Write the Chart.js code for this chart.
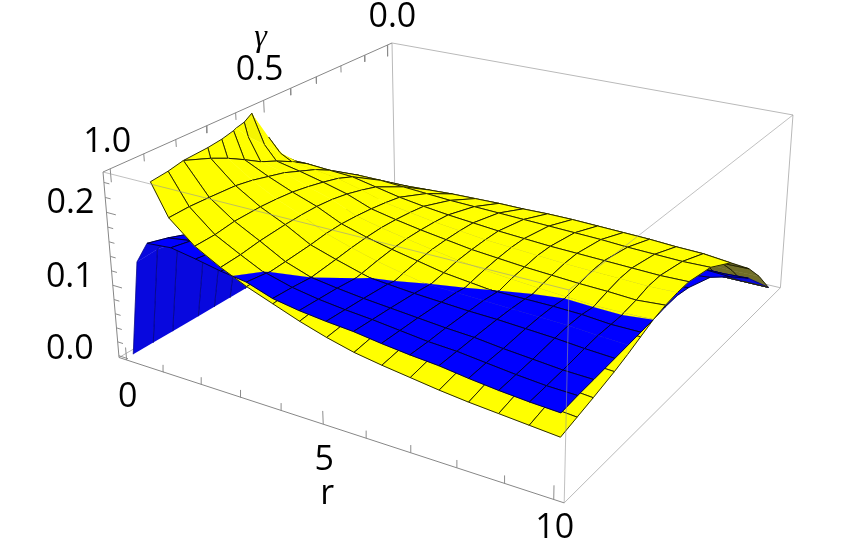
<!DOCTYPE html>
<html><head><meta charset="utf-8">
<style>html,body{margin:0;padding:0;background:#fff}canvas{display:block}</style>
<script src="https://cdn.jsdelivr.net/npm/chart.js@4/dist/chart.umd.js"></script>
</head><body><canvas id="c" width="852" height="542"></canvas>
<script>
// ---------- data ----------
const rValues=[0,.3125,.625,1.25,1.875,2.5,3.125,3.75,4.375,5,5.625,6.25,6.875,7.5,8.125,8.75,9.375,10];
const rMeshed=[0,0,1,1,1,1,1,1,1,1,1,1,1,1,1,1,1,1];
const gammaValues=[0,.065,.13,.24,.35,.46,.515,.57,.625,.68,.735,.79,.875,.9375,1];
const gammaMeshed=[1,0,1,1,1,1,0,1,0,1,0,1,1,1,1];
const yellowZ=[
[0,.015,.03,.07,.105,.165,.205,.25,.30,.355,.405,.455,.54,.60,.66],
[0,.02,.04,.08,.115,.162,.185,.208,.23,.258,.283,.31,.35,.38,.41],
[0,.024,.047,.088,.125,.162,.176,.188,.198,.212,.225,.236,.25,.261,.272],
[0,.029,.055,.093,.13,.16,.172,.181,.19,.196,.202,.206,.208,.209,.208],
[0,.03,.058,.098,.13,.158,.167,.173,.178,.182,.184,.185,.184,.18,.179],
[0,.031,.06,.1,.128,.151,.158,.164,.168,.17,.17,.169,.166,.162,.16],
[0,.032,.06,.102,.126,.144,.148,.151,.153,.154,.153,.15,.147,.145,.144],
[0,.032,.06,.103,.124,.139,.142,.144,.145,.144,.142,.139,.135,.133,.131],
[0,.033,.061,.104,.123,.135,.137,.138,.138,.136,.133,.129,.124,.121,.118],
[0,.033,.062,.104,.122,.132,.133,.133,.132,.129,.125,.12,.114,.11,.107],
[0,.034,.062,.105,.121,.129,.129,.128,.126,.122,.118,.113,.106,.102,.098],
[0,.034,.063,.105,.12,.127,.127,.125,.122,.118,.113,.108,.101,.096,.092],
[0,.034,.062,.104,.119,.125,.125,.122,.119,.114,.109,.103,.097,.092,.087],
[0,.034,.062,.103,.118,.124,.123,.12,.116,.111,.105,.099,.092,.087,.082],
[0,.033,.061,.102,.116,.123,.122,.118,.114,.108,.102,.096,.089,.084,.078],
[0,.033,.06,.1,.115,.122,.121,.117,.112,.106,.1,.094,.086,.081,.075],
[0,.032,.059,.099,.114,.121,.12,.115,.112,.104,.098,.092,.084,.078,.072],
[0,.033,.06,.095,.115,.122,.121,.118,.113,.105,.097,.09,.081,.075,.069]];
const blueZ=[
[0,0,0,0,0,0,0,0,0,0,0,0,0,0,0],
[0,.009,.018,.036,.05,.066,.073,.08,.088,.096,.105,.115,.133,.138,.135],
[0,.01,.02,.04,.056,.074,.081,.089,.098,.108,.118,.129,.149,.158,.165],
[0,.018,.036,.064,.08,.095,.102,.108,.115,.122,.13,.138,.155,.163,.168],
[0,.02,.038,.066,.083,.099,.105,.112,.119,.126,.134,.142,.152,.158,.162],
[0,.02,.039,.068,.085,.1,.106,.113,.12,.127,.134,.14,.148,.152,.155],
[0,.02,.039,.068,.085,.1,.105,.111,.117,.123,.129,.134,.14,.1465,.15],
[0,.021,.04,.068,.085,.099,.104,.108,.112,.117,.122,.127,.135,.137,.138],
[0,.021,.04,.069,.085,.099,.103,.107,.111,.115,.12,.127,.13,.131,.132],
[0,.021,.041,.07,.086,.099,.104,.108,.112,.116,.12,.124,.126,.127,.128],
[0,.021,.041,.071,.087,.099,.104,.107,.111,.115,.119,.121,.123,.124,.125],
[0,.022,.042,.071,.088,.099,.104,.108,.112,.115,.118,.119,.12,.12,.12],
[0,.022,.042,.072,.089,.1,.105,.109,.112,.115,.117,.117,.117,.116,.116],
[0,.022,.043,.073,.09,.101,.106,.11,.113,.115,.116,.116,.115,.114,.113],
[0,.022,.043,.074,.092,.103,.108,.111,.113,.115,.115,.114,.111,.11,.108],
[0,.022,.044,.076,.094,.105,.11,.112,.111,.114,.114,.112,.108,.106,.104],
[0,.022,.044,.077,.097,.108,.113,.113,.111,.111,.111,.109,.105,.103,.101],
[0,.023,.046,.075,.101,.114,.117,.116,.113,.111,.109,.107,.104,.102,.099]];
const rTicks=[0,1,2,3,4,5,6,7,8,9,10];
const gammaTicks=[0,.1,.2,.3,.4,.5,.6,.7,.8,.9,1];
const zTicks=[0,.02,.04,.06,.08,.1,.12,.14,.16,.18,.2,.22,.24];
const rLabels=[['0',0],['5',5],['10',10]];
const gammaLabels=[['0.0',0],['0.5',.5],['1.0',1]];
const zLabels=[['0.0',0],['0.1',.1],['0.2',.2]];

// ---------- view ----------
const Z_CLIP=.25;
const CAM=[[375.2,387.5,-21.4,124.4],[71.7,-118.2,-201.6,373.6],[-.1595,.2512,-.045,1.045]];
const uOf=r=>.02+.096*r, vOf=g=>.02+.96*(1-g), cOf=z=>.01+3.9*z;
function cube(u,v,c){const w=CAM[2][0]*u+CAM[2][1]*v+CAM[2][2]*c+CAM[2][3];
  return {x:(CAM[0][0]*u+CAM[0][1]*v+CAM[0][2]*c+CAM[0][3])/w,y:(CAM[1][0]*u+CAM[1][1]*v+CAM[1][2]*c+CAM[1][3])/w};}
const proj=(r,g,z)=>cube(uOf(r),vOf(g),cOf(z));
const GAP={x:null,y:null};

function clip(poly,f,cut){const out=[];
  for(let i=0;i<poly.length;i++){const a=poly[i],b=poly[(i+1)%poly.length],fa=f(a),fb=f(b);
    const mix=()=>{const t=fa/(fa-fb),o={};for(const k of ['r','g','Y','B'])o[k]=a[k]+(b[k]-a[k])*t;return o;};
    if(fa>=0){out.push(a);if(fb<0){out.push({...mix(),m:cut});}}
    else if(fb>=0){out.push({...mix(),m:a.m});}
  }
  return out;}
function area(p){let s=0;for(let i=0;i<p.length;i++){const a=p[i],b=p[(i+1)%p.length];s+=a.x*b.y-b.x*a.y;}return s;}

const painted=[];
const line=(data,color,w)=>({data,borderColor:color,borderWidth:w,showLine:true,pointRadius:0,fill:false,clip:false,tension:0});
function addSurface(poly,key,under,bright){
  const cut=clip(poly,v=>Z_CLIP-v[key],key==='Y');
  if(cut.length<3)return;
  const pts=cut.map(v=>proj(v.r,v.g,v[key]));
  let col;
  if(key==='Y'){ if(under) col='rgb(112,110,40)'; else {const b=Math.round(255*bright);col=`rgb(${b},${b},${Math.round(20*(1-bright))})`;} }
  else col=under?'rgb(8,8,222)':'rgb(0,0,255)';
  painted.push({data:pts,backgroundColor:col,borderColor:col,borderWidth:.5,showLine:true,fill:'shape',pointRadius:0,clip:false,tension:0});
  const mesh=[];
  cut.forEach((v,i)=>{if(v.m){mesh.push(pts[i],pts[(i+1)%pts.length],GAP);}});
  const mc=key==='Y'?'rgba(25,25,0,.92)':(under?'rgba(0,0,70,.45)':'rgba(0,0,50,.95)');
  if(mesh.length)painted.push(line(mesh,mc,1));
}
function slopeLight(a,b,c,d,key){ // a(r0,g0) b(r1,g0) c(r1,g1) d(r0,g1)
  if(a.g>=.6)return 1;
  const du=uOf(b.r)-uOf(a.r), dv=vOf(d.g)-vOf(a.g);
  const su=(cOf(b[key])+cOf(c[key])-cOf(a[key])-cOf(d[key]))/(2*du);
  const sv=(cOf(d[key])+cOf(c[key])-cOf(a[key])-cOf(b[key]))/(2*dv);
  return Math.min(1,.45+4/Math.sqrt(1+su*su+sv*sv));
}
// box back edges
const C=(u,v,c)=>cube(u,v,c);
painted.push(line([C(0,1,1),C(1,1,1),GAP,C(0,1,1),C(0,1,0),GAP,C(0,1,0),C(0,0,0),GAP,C(0,1,0),C(1,1,0),GAP,C(1,1,0),C(1,1,1)],'rgb(185,185,185)',1));
// surfaces: far cells first
for(let i=0;i<rValues.length-1;i++)for(let j=0;j<gammaValues.length-1;j++){
  const vx=(a,b)=>({r:rValues[a],g:gammaValues[b],Y:yellowZ[a][b],B:blueZ[a][b],m:true});
  const a=vx(i,j),b=vx(i+1,j),c=vx(i+1,j+1),d=vx(i,j+1);
  // edges: a->b (constant gamma), b->c (constant r), c->d (constant gamma), d->a (constant r)
  a.m=!!gammaMeshed[j]||i<2;b.m=!!rMeshed[i+1];c.m=!!gammaMeshed[j+1]||i<2;d.m=!!rMeshed[i];
  const quad=[a,b,c,d];
  const flat=area([proj(a.r,a.g,0),proj(b.r,b.g,0),proj(c.r,c.g,0),proj(d.r,d.g,0)]);
  const bright=slopeLight(a,b,c,d,'Y');
  const yHigh=clip(quad,v=>v.Y-v.B,false), bHigh=clip(quad,v=>v.B-v.Y,false);
  for(const [part,upper,lower] of [[yHigh,'Y','B'],[bHigh,'B','Y']]){
    if(part.length<3)continue;
    const under=k=>area(quad.map(v=>proj(v.r,v.g,v[k])))*flat<0;
    const ul=under(lower),uu=under(upper);
    if(ul){addSurface(part,upper,uu,bright);addSurface(part,lower,ul,bright);}
    else{addSurface(part,lower,ul,bright);addSurface(part,upper,uu,bright);}
  }
}
// axes and ticks and near edges
const tickSeg=[];
rTicks.forEach(t=>{const u=uOf(t),M=t%5===0;tickSeg.push(C(u,0,0),C(u,0,M?.07:.04),GAP);});
gammaTicks.forEach((t,i)=>{const v=vOf(t),M=i%5===0;tickSeg.push(C(0,v,1),C(0,v,M?.93:.96),GAP);});
zTicks.forEach((t,i)=>{const c=cOf(t),M=i%5===0;tickSeg.push(C(0,0,c),C(M?.024:.014,0,c),GAP);});
painted.push(line(tickSeg,'rgb(140,140,140)',1));
painted.push(line([C(0,0,0),C(1,0,0),GAP,C(0,0,1),C(0,1,1),GAP,C(0,0,0),C(0,0,1)],'rgb(135,135,135)',1));
painted.push(line([C(1,0,0),C(1,1,0)],'rgb(185,185,185)',1));
painted.push(line([C(0,0,1),C(1,0,1),GAP,C(1,0,1),C(1,0,0),GAP,C(1,0,1),C(1,1,1)],'rgba(150,150,150,.6)',1));

const textPlugin={id:'axisText',afterDraw(ch){
  const g=ch.ctx,sx=ch.scales.x,sy=ch.scales.y;
  const put=(s,p,dx,dy,font)=>{g.font=font;g.fillStyle='#000';g.textAlign='center';g.textBaseline='middle';
    g.fillText(s,sx.getPixelForValue(p.x)+dx,sy.getPixelForValue(p.y)+dy);};
  const F='34px "Open Sans"';
  const rOff=[[1,37],[1,36],[1,29]],gOff=[[5,-28],[-4,-30],[-3,-26]],zOff=[[-49,-6],[-43,-8],[-36,-9]];
  rLabels.forEach((l,i)=>put(l[0],C(uOf(l[1]),0,0),rOff[i][0],rOff[i][1],F));
  gammaLabels.forEach((l,i)=>put(l[0],C(0,vOf(l[1]),1),gOff[i][0],gOff[i][1],F));
  zLabels.forEach((l,i)=>put(l[0],C(0,0,cOf(l[1])),zOff[i][0],zOff[i][1],F));
  put('r',C(uOf(5),0,0),4,70,F);
  put('γ',C(0,vOf(.5),1),-3,-63,'italic 32px "Liberation Serif"');
}};
new Chart(document.getElementById('c'),{
  type:'scatter',
  data:{datasets:painted.slice().reverse()},
  plugins:[textPlugin],
  options:{responsive:false,animation:false,events:[],layout:{padding:0},
    plugins:{legend:{display:false},tooltip:{enabled:false},title:{display:false}},
    scales:{x:{type:'linear',min:0,max:852,display:false},y:{type:'linear',min:0,max:542,reverse:true,display:false}}}
});
</script></body></html>
